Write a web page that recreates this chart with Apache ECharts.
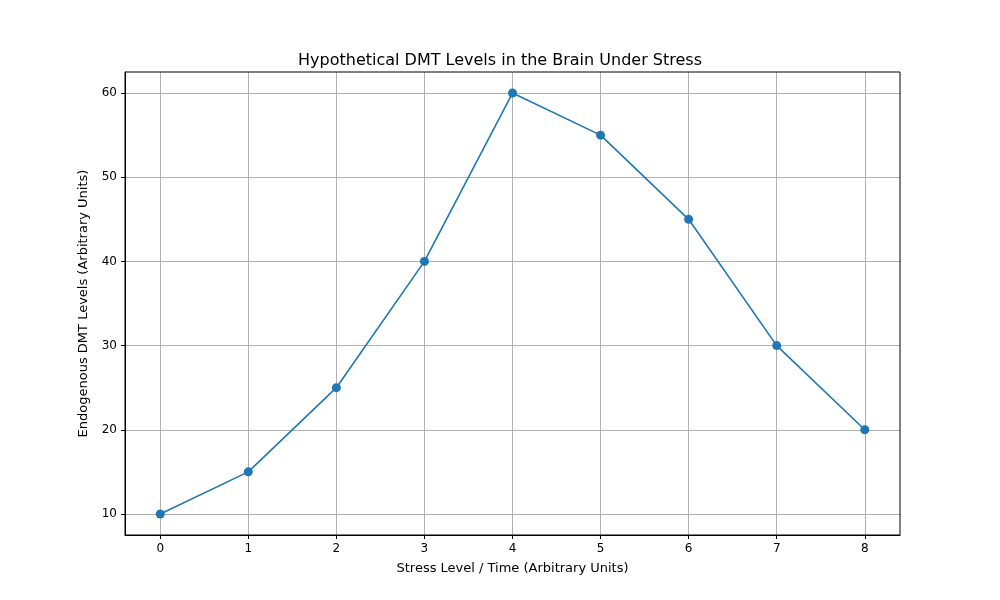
<!DOCTYPE html>
<html><head><meta charset="utf-8">
<script src="https://cdn.jsdelivr.net/npm/echarts@6/dist/echarts.min.js"></script>
<style>body{margin:0}#c{width:1000px;height:600px}</style></head>
<body><div id="c"></div>
<script>
const xValues = [0,1,2,3,4,5,6,7,8];
const dmtLevels = [10,15,25,40,60,55,45,30,20];
const xTicks = [0,1,2,3,4,5,6,7,8];
const yTicks = [10,20,30,40,50,60];
const chart = echarts.init(document.getElementById('c'));
const font = 'DejaVu Sans';
chart.setOption({
  animation:false,
  title:{text:'Hypothetical DMT Levels in the Brain Under Stress',left:'center',top:48,textStyle:{fontFamily:font,fontSize:16,fontWeight:'normal',color:'#000'}},
  grid:{left:125,right:100,top:72,bottom:65},
  xAxis:{type:'value',min:-0.4,max:8.4,
    name:'Stress Level / Time (Arbitrary Units)',nameLocation:'middle',nameGap:27,
    nameTextStyle:{fontFamily:font,fontSize:13,color:'#000'},
    axisLine:{show:true,onZero:false,lineStyle:{color:'#000'}},
    axisTick:{show:true,customValues:xTicks,length:4,inside:false,lineStyle:{color:'#000'}},
    axisLabel:{customValues:xTicks,fontFamily:font,fontSize:12,color:'#000',margin:8},
    splitLine:{show:true,lineStyle:{color:'#b0b0b0',width:1}}},
  yAxis:{type:'value',min:7.5,max:62.5,
    name:'Endogenous DMT Levels (Arbitrary Units)',nameLocation:'middle',nameGap:35,
    nameTextStyle:{fontFamily:font,fontSize:13,color:'#000'},
    axisLine:{show:true,onZero:false,lineStyle:{color:'#000'}},
    axisTick:{show:true,customValues:yTicks,length:4,lineStyle:{color:'#000'}},
    axisLabel:{customValues:yTicks,fontFamily:font,fontSize:12,color:'#000',margin:8},
    splitLine:{show:true,lineStyle:{color:'#b0b0b0',width:1}}},
  series:[{type:'line',data:xValues.map((x,i)=>[x,dmtLevels[i]]),
    symbol:'circle',symbolSize:9,itemStyle:{color:'#1f77b4'},lineStyle:{color:'#1f77b4',width:1.6}}]
});
chart.setOption({graphic:[{type:'rect',shape:{x:125,y:72,width:775,height:463},style:{fill:null,stroke:'#000',lineWidth:1},z:100}]});
</script></body></html>
